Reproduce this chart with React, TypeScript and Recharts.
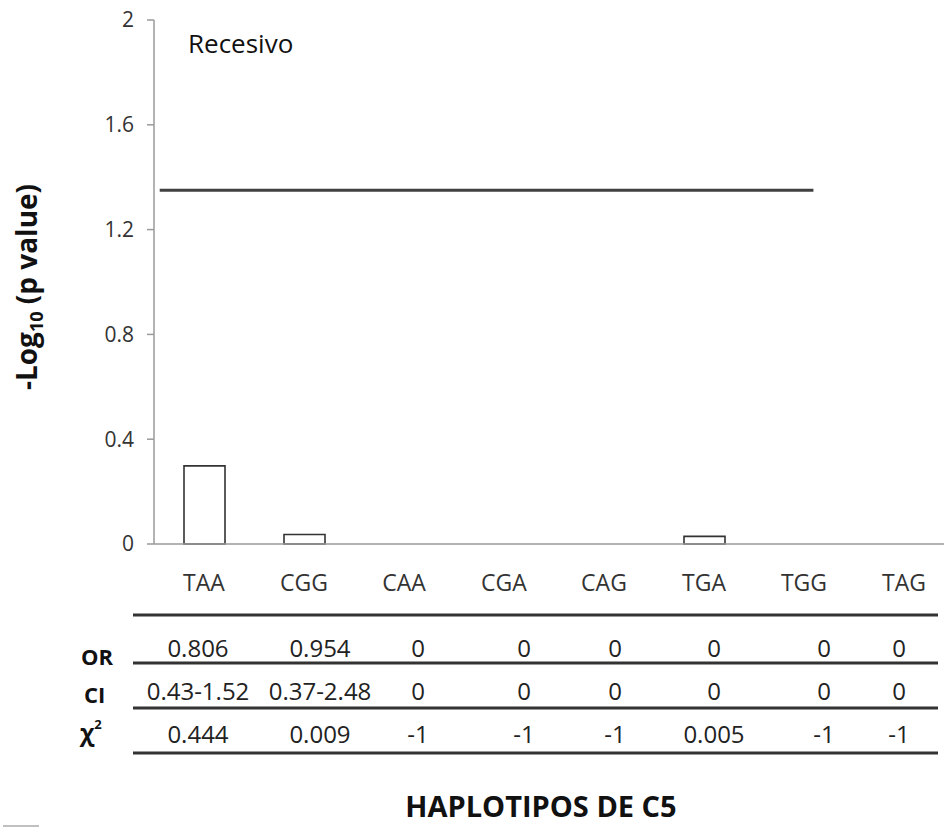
import { BarChart, Bar, XAxis, YAxis, ReferenceLine } from "recharts";

const haplotypes = ["TAA", "CGG", "CAA", "CGA", "CAG", "TGA", "TGG", "TAG"];
// -log10(p) per haplotype
const pValuesLog = [0.298, 0.036, 0, 0, 0, 0.029, 0, 0];
const orValues = ["0.806", "0.954", "0", "0", "0", "0", "0", "0"];
const ciValues = ["0.43-1.52", "0.37-2.48", "0", "0", "0", "0", "0", "0"];
const chiValues = ["0.444", "0.009", "-1", "-1", "-1", "0.005", "-1", "-1"];
const yTicks = [0, 0.4, 0.8, 1.2, 1.6, 2];
const threshold = 1.35;
// threshold segment on a hidden 0..7 axis spanning the plot width
const thresholdFrom = 0.05;
const thresholdTo = 5.77;

const data = haplotypes.map((h, i) => ({ name: h, value: pValuesLog[i] }));

const FONT = "'Open Sans', 'Noto Sans', sans-serif";
const AXIS = "#9a9a9a";
const TEXT = "#333";

// table layout (pixel positions of the table under the chart)
const colX = [198, 320, 418, 524, 615, 714, 824, 899];
const ruleY = [615, 663, 708, 753];

export default function App() {
  return (
    <div
      style={{
        position: "fixed",
        left: 0,
        top: 0,
        width: 944,
        height: 827,
        overflow: "hidden",
        background: "#fff",
        fontFamily: FONT,
      }}
    >
      <BarChart
        width={960}
        height={600}
        data={data}
        margin={{ top: 20, right: 6, left: 0, bottom: 0 }}
        barSize={41}
      >
        <XAxis
          dataKey="name"
          height={56}
          stroke={AXIS}
          strokeWidth={1.5}
          tickLine={false}
          tickSize={0}
          tickMargin={31}
          tick={{ fontSize: 23, fill: TEXT, fontFamily: FONT }}
        />
        <XAxis
          xAxisId="num"
          type="number"
          domain={[0, 7]}
          allowDataOverflow
          hide
        />
        <YAxis
          width={154}
          domain={[0, 2]}
          ticks={yTicks}
          stroke={AXIS}
          strokeWidth={1.5}
          tickSize={7}
          tickMargin={13}
          tick={{ fontSize: 21, fill: TEXT, fontFamily: FONT }}
        />
        <ReferenceLine
          xAxisId="num"
          segment={[
            { x: thresholdFrom, y: threshold },
            { x: thresholdTo, y: threshold },
          ]}
          stroke="#404040"
          strokeWidth={3}
        />
        <Bar
          dataKey="value"
          fill="#fff"
          stroke="#333"
          strokeWidth={1.6}
          isAnimationActive={false}
        />
      </BarChart>

      <svg
        width={944}
        height={827}
        style={{ position: "absolute", left: 0, top: 0, fontFamily: FONT }}
      >
        <text
          transform="translate(37,287) rotate(-90)"
          textAnchor="middle"
          fontSize={28}
          fontWeight="bold"
          fill="#111"
        >
          -Log
          <tspan fontSize={18} dy={6}>
            10
          </tspan>
          <tspan dy={-6}> (p value)</tspan>
        </text>

        <text x={188} y={53} fontSize={26} fill="#111">
          Recesivo
        </text>

        {ruleY.map((y) => (
          <line key={y} x1={133} x2={938} y1={y} y2={y} stroke="#333" strokeWidth={3} />
        ))}

        <text x={81} y={665} fontSize={22} fontWeight="bold" fill="#111">
          OR
        </text>
        <text x={84} y={703} fontSize={22} fontWeight="bold" fill="#111">
          CI
        </text>
        <text x={80} y={741} fontSize={24} fontWeight="bold" fill="#111">
          χ
          <tspan fontSize={13} dy={-12}>
            2
          </tspan>
        </text>

        {orValues.map((v, i) => (
          <text key={"or" + i} x={colX[i]} y={657} textAnchor="middle" fontSize={24} fill="#222">
            {v}
          </text>
        ))}
        {ciValues.map((v, i) => (
          <text key={"ci" + i} x={colX[i]} y={700} textAnchor="middle" fontSize={24} fill="#222">
            {v}
          </text>
        ))}
        {chiValues.map((v, i) => (
          <text key={"chi" + i} x={colX[i]} y={743} textAnchor="middle" fontSize={24} fill="#222">
            {v}
          </text>
        ))}

        <text x={541} y={817} textAnchor="middle" fontSize={29} fontWeight="bold" fill="#111">
          HAPLOTIPOS DE C5
        </text>

        <line x1={3} x2={39} y1={826} y2={826} stroke="#c0c0c0" strokeWidth={2} />
      </svg>
    </div>
  );
}
